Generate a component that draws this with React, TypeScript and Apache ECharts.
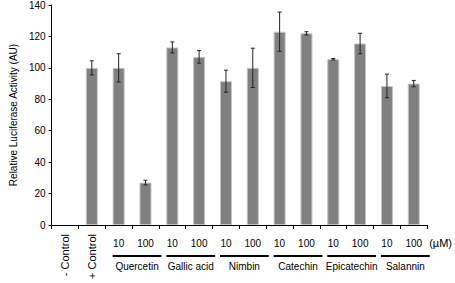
import React, { useEffect, useRef } from "react";
import * as echarts from "echarts";

const categories = ["neg", "pos", "Q10", "Q100", "G10", "G100", "N10", "N100", "C10", "C100", "E10", "E100", "S10", "S100"];
const controlLabels = ["- Control", "+ Control", "", "", "", "", "", "", "", "", "", "", "", ""];
const concentrationLabels = ["", "", "10", "100", "10", "100", "10", "100", "10", "100", "10", "100", "10", "100"];
const values: (number | null)[] = [null, 100, 100, 27, 113, 107, 91.5, 100, 123, 122, 105.5, 115.5, 88.5, 90];
const errors: (number | null)[] = [null, 4.5, 9, 1.5, 3.5, 4, 7, 12.5, 12.5, 1, 0.5, 6.5, 7.5, 2];
const groupNames = ["Quercetin", "Gallic acid", "Nimbin", "Catechin", "Epicatechin", "Salannin"];
const groupStart = [2, 4, 6, 8, 10, 12];
const groupEnd = [3, 5, 7, 9, 11, 13];
const yTicks = { min: 0, max: 140, interval: 20 };

const FONT = "Liberation Sans, Arial, Helvetica, sans-serif";

export default function App() {
  const ref = useRef<HTMLDivElement>(null);
  useEffect(() => {
    if (!ref.current) return;
    const chart = echarts.init(ref.current, undefined, { renderer: "svg" });
    const errData = values
      .map((v, i) => (v == null || errors[i] == null ? null : [i, v - (errors[i] as number), v + (errors[i] as number)]))
      .filter((d) => d != null);
    const groupData = groupNames.map((_, i) => [groupStart[i], groupEnd[i], 0]);
    chart.setOption({
      animation: false,
      textStyle: { fontFamily: FONT },
      grid: { left: 44, top: 5, right: 25, bottom: 58 },
      xAxis: [
        {
          type: "category",
          data: categories,
          position: "bottom",
          axisLine: { lineStyle: { color: "#000", width: 1 } },
          axisTick: { show: true, length: 4, lineStyle: { color: "#000" } },
          axisLabel: {
            formatter: (_v: string, i: number) => concentrationLabels[i],
            color: "#000",
            fontSize: 10,
            fontFamily: FONT,
            margin: 13,
            interval: 0,
          },
          name: "(µM)",
          nameLocation: "end",
          nameGap: 2,
          nameTextStyle: { color: "#000", fontSize: 11, fontFamily: FONT, verticalAlign: "top", padding: [12, 0, 0, 0] },
        },
        {
          type: "category",
          data: categories,
          position: "bottom",
          axisLine: { show: false },
          axisTick: { show: false },
          axisLabel: {
            formatter: (_v: string, i: number) => controlLabels[i],
            rotate: 90,
            color: "#000",
            fontSize: 11,
            fontFamily: FONT,
            margin: 9,
            interval: 0,
          },
        },
      ],
      yAxis: {
        type: "value",
        min: yTicks.min,
        max: yTicks.max,
        interval: yTicks.interval,
        splitLine: { show: false },
        axisLine: { show: true, lineStyle: { color: "#000", width: 1 } },
        axisTick: { show: true, length: 3, lineStyle: { color: "#000" } },
        axisLabel: { color: "#000", fontSize: 10, fontFamily: FONT, margin: 6 },
        name: "Relative Luciferase Activity (AU)",
        nameLocation: "middle",
        nameGap: 33,
        nameTextStyle: { color: "#000", fontSize: 10, fontFamily: FONT },
      },
      series: [
        {
          type: "bar",
          data: values,
          barWidth: 12,
          itemStyle: { color: "#808080", borderColor: "#c4c4c4", borderWidth: 1 },
          xAxisIndex: 0,
        },
        {
          type: "custom",
          xAxisIndex: 0,
          data: errData,
          encode: { x: 0, y: [1, 2] },
          z: 5,
          renderItem: (_params: any, api: any) => {
            const x = api.value(0);
            const pLo = api.coord([x, api.value(1)]);
            const pHi = api.coord([x, api.value(2)]);
            const w = 2;
            const st = { stroke: "#222", lineWidth: 1 };
            return {
              type: "group",
              children: [
                { type: "line", shape: { x1: pHi[0], y1: pHi[1], x2: pLo[0], y2: pLo[1] }, style: st },
                { type: "line", shape: { x1: pHi[0] - w, y1: pHi[1], x2: pHi[0] + w, y2: pHi[1] }, style: st },
                { type: "line", shape: { x1: pLo[0] - w, y1: pLo[1], x2: pLo[0] + w, y2: pLo[1] }, style: st },
              ],
            };
          },
        },
        {
          type: "custom",
          xAxisIndex: 0,
          data: groupData,
          clip: false,
          silent: true,
          encode: { x: [0, 1] },
          renderItem: (params: any, api: any) => {
            const a = api.coord([api.value(0), 0]);
            const b = api.coord([api.value(1), 0]);
            const y0 = a[1];
            const x1 = a[0] - 6;
            const x2 = b[0] + 16;
            return {
              type: "group",
              children: [
                { type: "line", shape: { x1, y1: y0 + 31, x2, y2: y0 + 31 }, style: { stroke: "#000", lineWidth: 2 } },
                {
                  type: "text",
                  style: {
                    text: groupNames[params.dataIndex],
                    x: (x1 + x2) / 2,
                    y: y0 + 36,
                    align: "center",
                    verticalAlign: "top",
                    fill: "#000",
                    fontSize: 10,
                    fontFamily: FONT,
                  },
                },
              ],
            };
          },
        },
      ],
    });
    return () => chart.dispose();
  }, []);
  return <div ref={ref} style={{ position: "fixed", left: 0, top: 0, width: 455, height: 283, background: "#fff" }} />;
}
